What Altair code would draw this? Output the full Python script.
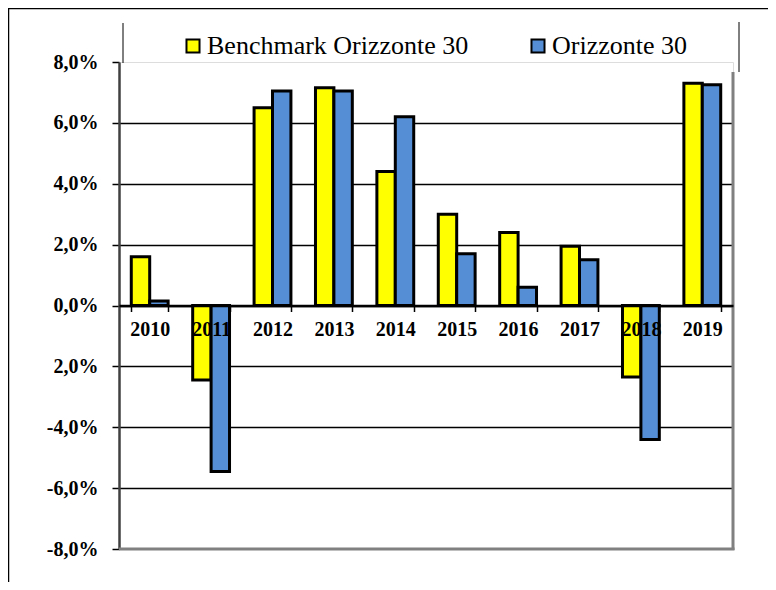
import altair as alt
import pandas as pd

anni = ["2010", "2011", "2012", "2013", "2014", "2015", "2016", "2017", "2018", "2019"]
benchmark = [1.6, -2.45, 6.5, 7.15, 4.4, 3.0, 2.4, 1.95, -2.35, 7.3]
orizzonte = [0.15, -5.45, 7.05, 7.05, 6.2, 1.7, 0.6, 1.5, -4.4, 7.25]
serie = ["Benchmark Orizzonte 30", "Orizzonte 30"]
colori = ["#FFFF00", "#558ED5"]
y_ticks = [-8, -6, -4, -2, 0, 2, 4, 6, 8]

rows = []
for a, b, o in zip(anni, benchmark, orizzonte):
    rows.append({"anno": a, "serie": serie[0], "valore": b})
    rows.append({"anno": a, "serie": serie[1], "valore": o})
df = pd.DataFrame(rows)

W, H = 614, 487
FONT = "Liberation Serif"
LFONT = "Liberation Serif, Times New Roman, Times, serif"

label_expr = ("datum.value == -2 ? '2,0%' : (datum.value < 0 ? '-' : '') + "
              "replace(format(abs(datum.value), '.1f'), '.', ',') + '%'")

bars = alt.Chart(df).mark_bar(stroke="black", strokeWidth=3, strokeJoin="miter").encode(
    x=alt.X("anno:N", sort=anni, title=None,
            scale=alt.Scale(paddingInner=0.4, paddingOuter=0.2),
            axis=alt.Axis(orient="bottom", offset=-H / 2, zindex=1,
                          domainColor="black", domainWidth=2.5,
                          tickBand="extent", tickColor="black", tickSize=6, tickWidth=1.5,
                          labelAngle=0, labelFont=FONT, labelFontSize=20, labelFontWeight="bold",
                          labelColor="black", labelPadding=8, grid=False)),
    xOffset=alt.XOffset("serie:N", sort=serie, scale=alt.Scale(paddingInner=0, paddingOuter=0)),
    y=alt.Y("valore:Q", title=None,
            scale=alt.Scale(domain=[-8, 8], nice=False, zero=False),
            axis=alt.Axis(values=y_ticks, labelExpr=label_expr,
                          domainColor="#404040", domainWidth=2.5,
                          tickColor="black", tickSize=7, tickWidth=1.5,
                          labelFont=FONT, labelFontSize=20, labelFontWeight="bold",
                          labelColor="black", labelPadding=14,
                          grid=True, gridColor="black", gridWidth=1.5,
                          gridOpacity=alt.condition("datum.value == 8 || datum.value == -8",
                                                    alt.value(0), alt.value(1)))),
    color=alt.Color("serie:N", sort=serie,
                    scale=alt.Scale(domain=serie, range=colori),
                    legend=alt.Legend(orient="none", legendX=61, legendY=-29,
                                      direction="horizontal", title=None,
                                      labelFont=LFONT, labelFontSize=26, labelColor="black",
                                      labelFontWeight="normal",
                                      labelLimit=500, labelOffset=1,
                                      symbolType="square", symbolSize=170,
                                      symbolStrokeColor="black", symbolStrokeWidth=2,
                                      symbolOpacity=1, columnPadding=56)),
)

one = alt.Data(values=[{}])
gray = "#808080"
right_border = alt.Chart(one).mark_rule(color=gray, strokeWidth=3).encode(
    x=alt.value(W), y=alt.value(10), y2=alt.value(H + 1))
bottom_border = alt.Chart(one).mark_rule(color=gray, strokeWidth=3).encode(
    x=alt.value(0), x2=alt.value(W + 1.5), y=alt.value(H))
box_left = alt.Chart(one).mark_rule(color="black", strokeWidth=1).encode(
    x=alt.value(4), y=alt.value(-39), y2=alt.value(1))
box_right = alt.Chart(one).mark_rule(color="black", strokeWidth=1).encode(
    x=alt.value(620), y=alt.value(-40), y2=alt.value(10))
frame_top = alt.Chart(one).mark_rule(color="black", strokeWidth=1.5).encode(
    x=alt.value(-111), x2=alt.value(W + 40), y=alt.value(-53.5))
frame_left = alt.Chart(one).mark_rule(color="black", strokeWidth=1.5).encode(
    x=alt.value(-110.5), y=alt.value(-54), y2=alt.value(H + 40))

chart = alt.layer(bars, right_border, bottom_border, box_left, box_right,
                  frame_top, frame_left).properties(
    width=W, height=H,
    padding={"left": 111, "top": 54, "right": 35, "bottom": 33},
    autosize=alt.AutoSizeParams(type="none"),
    background="white",
).configure_view(stroke=None).configure_legend(
    labelFont=LFONT, labelFontSize=26, labelColor="black", labelFontWeight="normal"
).configure(font=FONT)

chart.save("out.html", embed_options={"renderer": "svg", "actions": False})
